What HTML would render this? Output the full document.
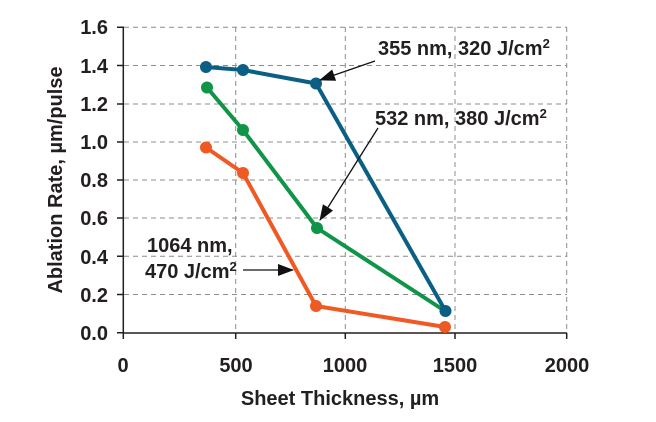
<!DOCTYPE html>
<html><head><meta charset="utf-8"><style>
html,body{margin:0;padding:0;background:#fff;width:656px;height:422px;overflow:hidden}
svg text{font-family:"Liberation Sans",sans-serif;font-weight:bold;fill:#231f20}
</style></head><body>
<svg width="656" height="422" viewBox="0 0 656 422" xmlns="http://www.w3.org/2000/svg">
<defs>
<marker id="ah2" markerWidth="16" markerHeight="12" refX="15" refY="6" orient="auto" markerUnits="userSpaceOnUse"><path d="M0,0 L16,6 L0,12 z" fill="#111"/></marker></defs>
<g stroke="#8c8c8c" stroke-width="1" stroke-dasharray="5,4" fill="none">
<path d="M124,294.5H567M124,256.3H567M124,218H567M124,180H567M124,142H567M124,104H567M124,65.5H567M124,27.3H567"/>
<path d="M235.7,27V333M345.3,27V333M455,27V333M566.7,27V333"/>
</g>
<g stroke="#231f20" stroke-width="1.5" fill="none">
<path d="M123.3,27V333H567"/>
<path d="M117,332.7H124M117,294.5H124M117,256.3H124M117,218H124M117,180H124M117,142H124M117,104H124M117,65.5H124M117,27.3H124"/>
<path d="M123.3,333V339M235.7,333V339M345.3,333V339M455,333V339M566.7,333V339"/>
</g>
<g font-size="20" text-anchor="end">
<text x="108" y="340">0.0</text><text x="108" y="302">0.2</text><text x="108" y="264">0.4</text><text x="108" y="225">0.6</text><text x="108" y="187">0.8</text><text x="108" y="149">1.0</text><text x="108" y="111">1.2</text><text x="108" y="73">1.4</text><text x="108" y="34">1.6</text>
</g>
<g font-size="20" text-anchor="middle">
<text x="123" y="372">0</text><text x="236" y="372">500</text><text x="345" y="372">1000</text><text x="455" y="372">1500</text><text x="567" y="372">2000</text>
<text x="340" y="405">Sheet Thickness, µm</text>
<text transform="translate(62,180) rotate(-90)">Ablation Rate, µm/pulse</text>
</g>
<g fill="none" stroke-width="4" stroke-linejoin="round">
<polyline stroke="#ef5a24" points="206,147.5 243,173 316,306 445,327"/>
<polyline stroke="#109447" points="207,87.5 243,130 317,228 445,311"/>
<polyline stroke="#0c5f84" points="206,67 243,70 316,83.5 445.5,311"/>
</g>
<g fill="#ef5a24"><circle cx="206" cy="147.5" r="6"/><circle cx="243" cy="173" r="6"/><circle cx="316" cy="306" r="6"/><circle cx="445" cy="327" r="6"/></g>
<g fill="#109447"><circle cx="207" cy="87.5" r="6"/><circle cx="243" cy="130" r="6"/><circle cx="317" cy="228" r="6"/></g>
<g fill="#0c5f84"><circle cx="206" cy="67" r="6"/><circle cx="243" cy="70" r="6"/><circle cx="316" cy="83.5" r="6"/><circle cx="445.5" cy="311" r="6"/></g>
<g stroke="#111" stroke-width="1.3">
<line x1="375" y1="61" x2="320" y2="80" marker-end="url(#ah2)"/>
<line x1="378" y1="128" x2="320" y2="220" marker-end="url(#ah2)"/>
<line x1="243" y1="270" x2="293" y2="270" marker-end="url(#ah2)"/>
</g>
<g font-size="20">
<text x="378" y="55">355 nm, 320 J/cm<tspan font-size="13" dy="-7">2</tspan></text>
<text x="375" y="125">532 nm, 380 J/cm<tspan font-size="13" dy="-7">2</tspan></text>
<text x="147" y="252">1064 nm,</text>
<text x="145" y="278">470 J/cm<tspan font-size="13" dy="-7">2</tspan></text>
</g>
</svg>
</body></html>
